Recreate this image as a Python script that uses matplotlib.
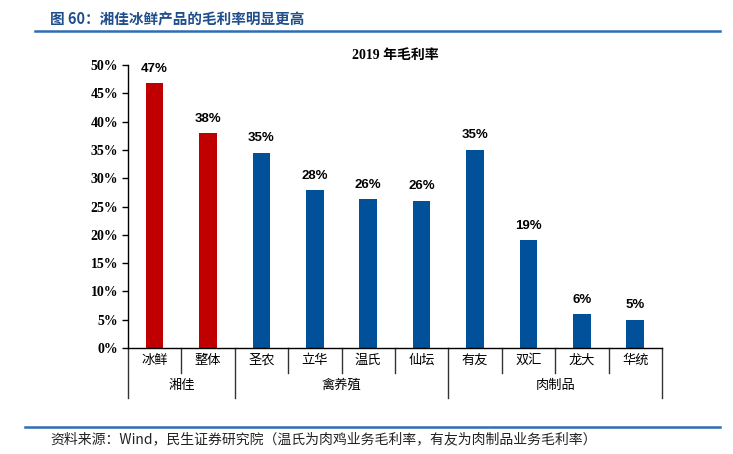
import matplotlib
matplotlib.use('Agg')
import matplotlib.pyplot as plt
import matplotlib.transforms as mtransforms
import numpy as np

plt.rcParams['font.family'] = ['Noto Sans CJK SC', 'DejaVu Sans']

# 数据
empresas = ['冰鲜', '整体', '圣农', '立华', '温氏', '仙坛', '有友', '双汇', '龙大', '华统']
margen = [46.8, 37.9, 34.5, 27.9, 26.3, 26.0, 35.0, 19.0, 6.0, 5.0]
etiquetas = ['47%', '38%', '35%', '28%', '26%', '26%', '35%', '19%', '6%', '5%']
grupos = ['湘佳', '禽养殖', '肉制品']
tam_grupos = [2, 4, 4]
colores = ['#C00000', '#C00000'] + ['#00519A'] * 8

fig = plt.figure(figsize=(7.33, 4.54), dpi=100)
ax = fig.add_axes([0.1746, 0.2335, 0.903 - 0.1746, 0.8568 - 0.2335])

x = np.arange(len(empresas))
ax.bar(x, margen, width=0.33, color=colores, zorder=2)

for xi, v, t in zip(x, margen, etiquetas):
    ax.text(xi, v + 1.5, t, ha='center', va='bottom', fontsize=9.5,
            fontweight='bold', family=['Liberation Sans', 'DejaVu Sans'])

ax.set_xlim(-0.5, len(empresas) - 0.5)
ax.set_ylim(0, 50)
ax.set_yticks(np.arange(0, 51, 5))
ax.set_yticklabels([f'{v}%' for v in range(0, 51, 5)],
                   family=['Liberation Serif'], fontweight='bold', fontsize=10)
ax.tick_params(axis='y', direction='out', length=4, width=1, pad=3)
ax.set_xticks([])
for s in ['top', 'right']:
    ax.spines[s].set_visible(False)
ax.spines['left'].set_linewidth(1)
ax.spines['bottom'].set_linewidth(1)

ax.text(0.5, 1.01, '2019 年毛利率', transform=ax.transAxes, ha='center', va='bottom',
        fontsize=10, fontweight='bold', family=['Liberation Serif', 'Noto Sans CJK SC'])

# tabla de categorias debajo del eje
trans = mtransforms.blended_transform_factory(ax.transData, ax.transAxes)
fila = 25 / 283
bordes_grupo = [-0.5]
acum = -0.5
for n in tam_grupos:
    acum += n
    bordes_grupo.append(acum)

for i in range(len(empresas) + 1):
    b = i - 0.5
    bajo = -2 * fila if b in bordes_grupo else -fila
    ax.plot([b, b], [0, bajo], transform=trans, color='#333333', lw=1, clip_on=False)

for xi, nombre in zip(x, empresas):
    ax.text(xi, -fila / 2, nombre, transform=trans, ha='center', va='center', fontsize=9.5)

for g, a, b in zip(grupos, bordes_grupo[:-1], bordes_grupo[1:]):
    ax.text((a + b) / 2, -1.5 * fila, g, transform=trans, ha='center', va='center', fontsize=9.5)

# titulo y pie
fig.text(50 / 733, 1 - 19 / 454, '图 60：湘佳冰鲜产品的毛利率明显更高', ha='left', va='center',
         fontsize=10.5, fontweight='bold', color='#1F4E8C')
fig.add_artist(plt.Line2D([35 / 733, 720 / 733], [1 - 31 / 454, 1 - 31 / 454],
                          color='#2E6DB4', lw=1.8))
fig.add_artist(plt.Line2D([25 / 733, 720 / 733], [1 - 427 / 454, 1 - 427 / 454],
                          color='#2E6DB4', lw=1.8))
fig.text(50 / 733, 1 - 439 / 454,
         '资料来源：Wind，民生证券研究院（温氏为肉鸡业务毛利率，有友为肉制品业务毛利率）',
         ha='left', va='center', fontsize=10, color='#222222')

fig.savefig('out.png', dpi=100)
